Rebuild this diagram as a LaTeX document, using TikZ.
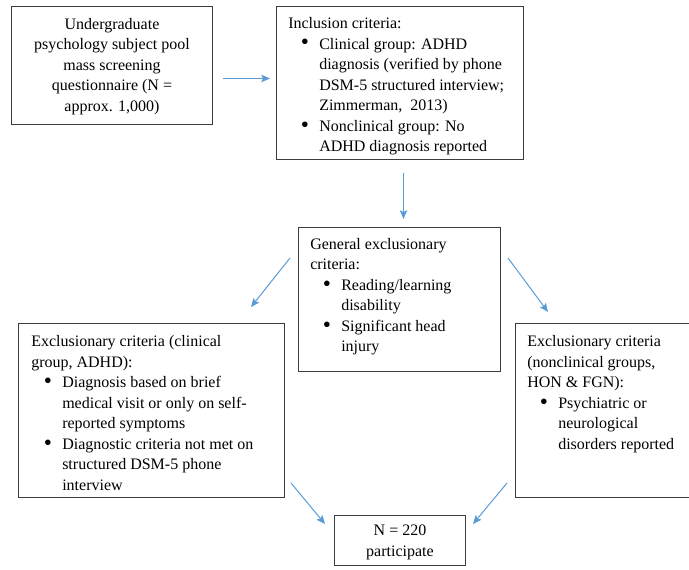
\documentclass[tikz,border=0pt]{standalone}
\usepackage{fontspec}
\usepackage{graphicx}
\setmainfont{Liberation Serif}
\usetikzlibrary{arrows.meta,calc}
\definecolor{arrblue}{RGB}{91,155,213}
\definecolor{boxgray}{RGB}{60,60,60}
\tikzset{
  frame/.style={draw=boxgray, line width=0.75pt, inner sep=0pt, anchor=north west},
  txt/.style={inner sep=0pt, align=left, font=\fontsize{12}{15.4}\selectfont, anchor=north west},
  ctxt/.style={inner sep=0pt, align=center, font=\fontsize{12}{15.4}\selectfont, anchor=north},
  arr/.style={draw=arrblue, line width=0.75pt, -{Stealth[length=6.5pt,width=5.5pt,inset=1.2pt]}},
}
\newcommand{\bul}{\hspace*{9.5pt}\makebox[13.75pt][l]{\raisebox{-0.6pt}{\scalebox{1.45}{\textbullet}}}\strut}
\newcommand{\ind}{\hspace*{23.25pt}\strut}
\begin{document}
\begin{tikzpicture}[x=0.75pt,y=-0.75pt]
\useasboundingbox (0,0) rectangle (689,570);
\clip (0,0) rectangle (689,570);
% boxes
\node[frame, minimum width=201*0.75pt, minimum height=118*0.75pt] (b1) at (11,6) {};
\node[frame, minimum width=247*0.75pt, minimum height=153*0.75pt] (b2) at (276,6) {};
\node[frame, minimum width=202*0.75pt, minimum height=144*0.75pt] (b3) at (298,227) {};
\node[frame, minimum width=266*0.75pt, minimum height=174*0.75pt] (b4) at (18,323) {};
\node[frame, minimum width=195*0.75pt, minimum height=174*0.75pt] (b5) at (515,323) {};
\node[frame, minimum width=131*0.75pt, minimum height=50*0.75pt] (b6) at (334,515) {};
% texts
\node[ctxt] (t1) at ([shift={(0,8.5)}]b1.north) {\strut Undergraduate\\ \strut psychology subject pool\\ \strut mass screening\\ \strut questionnaire (N =\\ \strut approx. 1,000)};
\node[txt] (t2) at ([shift={(12,8)}]b2.north west) {\strut Inclusion criteria:\\ \bul Clinical group: ADHD\\ \ind diagnosis (verified by phone\\ \ind DSM-5 structured interview;\\ \ind Zimmerman,\ \ 2013)\\ \bul Nonclinical group: No\\ \ind ADHD diagnosis reported};
\node[txt] (t3) at ([shift={(12,7.5)}]b3.north west) {\strut General exclusionary\\ \strut criteria:\\ \bul Reading/learning\\ \ind disability\\ \bul Significant head\\ \ind injury};
\node[txt] (t4) at ([shift={(13,9)}]b4.north west) {\strut Exclusionary criteria (clinical\\ \strut group, ADHD):\\ \bul Diagnosis based on brief\\ \ind medical visit or only on self-\\ \ind reported symptoms\\ \bul Diagnostic criteria not met on\\ \ind structured DSM-5 phone\\ \ind interview};
\node[txt] (t5) at ([shift={(12,9)}]b5.north west) {\strut Exclusionary criteria\\ \strut (nonclinical groups,\\ \strut HON \& FGN):\\ \bul Psychiatric or\\ \ind neurological\\ \ind disorders reported};
\node[ctxt] (t6) at ([shift={(0,6)}]b6.north) {\strut N = 220\\ \strut participate};
% arrows
\draw[arr] ($(b1.east)+(10,13)$) -- ($(b2.west)+(-6,-4.5)$);
\draw[arr] ($(b2.south)+(3.5,13)$) -- ($(b3.north)+(4,-8)$);
\draw[arr] ($(b3.north west)+(-8,31)$) -- ($(b4.north east)+(-34,-16)$);
\draw[arr] ($(b3.north east)+(7,31)$) -- ($(b5.north west)+(33,-11)$);
\draw[arr] ($(b4.south east)+(6,-15)$) -- ($(b6.north west)+(-9,9)$);
\draw[arr] ($(b5.south west)+(-8,-15)$) -- ($(b6.north east)+(7,9)$);
\end{tikzpicture}
\end{document}
